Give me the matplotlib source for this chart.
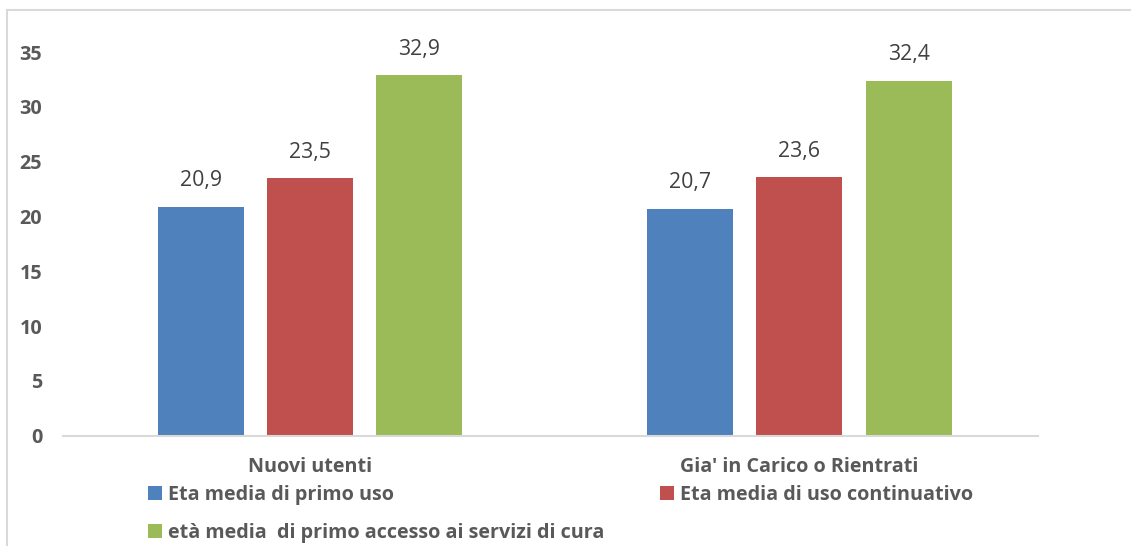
import matplotlib
matplotlib.use("Agg")
import matplotlib.pyplot as plt
from matplotlib.patches import Rectangle
import numpy as np

categories = ["Nuovi utenti", "Gia' in Carico o Rientrati"]
series_names = ["Eta media di primo uso",
                "Eta media di uso continuativo",
                "età media  di primo accesso ai servizi di cura"]
primo_uso = [20.9, 20.7]
uso_continuativo = [23.5, 23.6]
primo_accesso = [32.9, 32.4]
colors = ["#4F81BD", "#C0504D", "#9BBB59"]
yticks = [0, 5, 10, 15, 20, 25, 30, 35]

plt.rcParams['font.family'] = ['Open Sans', 'DejaVu Sans']
BOLD_FS = 14.2

W, H = 1131, 546
fig = plt.figure(figsize=(W / 100, H / 100), dpi=100)
x0, x1 = 63, 1038
yb, yt = 435.7, 52
ax = fig.add_axes([x0 / W, (H - yb) / H, (x1 - x0) / W, (yb - yt) / H])

# outer chart border (cropped)
fig.patches.append(Rectangle((7 / W, -0.1), 1.2, (H - 10) / H + 0.1,
                             transform=fig.transFigure, fill=False,
                             edgecolor="#D9D9D9", linewidth=1.5))

x = np.arange(len(categories))
bw = 0.176
step = 0.2236
all_series = [primo_uso, uso_continuativo, primo_accesso]
bars = []
for i, (vals, c, name) in enumerate(zip(all_series, colors, series_names)):
    b = ax.bar(x + (i - 1) * step, vals, bw, color=c, label=name, zorder=2)
    bars.append(b)
    for xi, v in zip(x + (i - 1) * step, vals):
        ax.annotate(f"{v:.1f}".replace(".", ","), (xi, v), xytext=(0, 11),
                    textcoords="offset points", ha="center", va="bottom",
                    fontsize=15.3, color="#404040", annotation_clip=False)

ax.set_xlim(-0.505, 1.488)
ax.set_ylim(0, 35)
ax.set_yticks(yticks)
ax.set_yticklabels([str(t) for t in yticks], fontsize=BOLD_FS, fontweight="bold", color="#595959")
ax.set_xticks(x)
ax.set_xticklabels(categories, fontsize=BOLD_FS, fontweight="bold", color="#595959")
ax.tick_params(axis="both", length=0)
ax.tick_params(axis="x", pad=15)
ax.tick_params(axis="y", pad=15)
for s in ["top", "right", "left"]:
    ax.spines[s].set_visible(False)
ax.spines["bottom"].set_color("#D9D9D9")
ax.spines["bottom"].set_linewidth(1.5)

handles = [bars[0], bars[2], bars[1]]
labels = [series_names[0], series_names[2], series_names[1]]
fig.legend(handles, labels, ncol=2, loc="upper left",
           bbox_to_anchor=(148 / W, (H - 485) / H), frameon=False,
           prop={"family": "Open Sans", "weight": "bold", "size": BOLD_FS},
           labelcolor="#595959", handlelength=0.7, handleheight=0.7,
           handletextpad=0.3, columnspacing=2.85, labelspacing=0.9,
           borderpad=0, borderaxespad=0)

fig.savefig("out.png", dpi=100)
